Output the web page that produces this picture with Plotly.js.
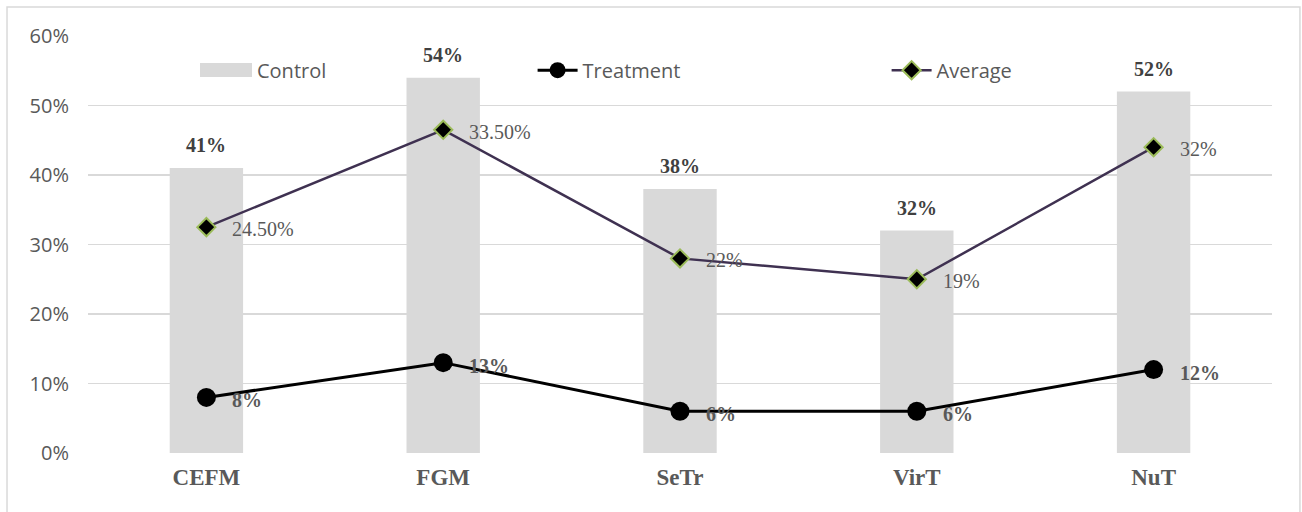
<!DOCTYPE html>
<html>
<head>
<meta charset="utf-8">
<script src="https://cdn.plot.ly/plotly-3.0.1.min.js"></script>
<style>
html,body{margin:0;padding:0;background:#fff;}
#chart{width:1302px;height:512px;}
</style>
</head>
<body>
<div id="chart"></div>
<script>
const categories = ["CEFM", "FGM", "SeTr", "VirT", "NuT"];
const control = [41, 54, 38, 32, 52];
const treatment = [8, 13, 6, 6, 12];
const average = [24.5, 33.5, 22, 19, 32];
const averageLabels = ["24.50%", "33.50%", "22%", "19%", "32%"];
const yTicks = [0, 10, 20, 30, 40, 50, 60];

const sans = "'Open Sans', 'Liberation Sans', sans-serif";
const serif = "'Liberation Serif', 'DejaVu Serif', serif";

const traces = [
  {
    type: "bar", name: "Control", x: categories, y: control,
    width: 0.31, marker: {color: "#D9D9D9"}, legend: "legend",
    hoverinfo: "skip"
  },
  {
    type: "scatter", mode: "lines+markers", name: "Treatment",
    x: categories, y: treatment, stackgroup: "stk", fill: "none",
    line: {color: "#000000", width: 3},
    marker: {symbol: "circle", size: 19, color: "#000000"},
    legend: "legend2", cliponaxis: false
  },
  {
    type: "scatter", mode: "lines+markers", name: "Average",
    x: categories, y: average, stackgroup: "stk", fill: "none",
    line: {color: "#3F3151", width: 2.5},
    marker: {symbol: "diamond", size: 14, color: "#000000", line: {color: "#9BBB59", width: 2}},
    legend: "legend3", cliponaxis: false
  }
];

const annotations = [];
categories.forEach((c, i) => {
  annotations.push({
    x: c, y: control[i], xref: "x", yref: "y", text: control[i] + "%",
    showarrow: false, yanchor: "bottom", yshift: 10,
    font: {family: serif, size: 20, color: "#404040", weight: "bold"}
  });
  annotations.push({
    x: c, y: treatment[i], xref: "x", yref: "y", text: treatment[i] + "%",
    showarrow: false, xanchor: "left", xshift: 24, yshift: -3,
    font: {family: serif, size: 20, color: "#595959", weight: "bold"}
  });
  annotations.push({
    x: c, y: treatment[i] + average[i], xref: "x", yref: "y", text: averageLabels[i],
    showarrow: false, xanchor: "left", xshift: 24, yshift: -2,
    font: {family: serif, size: 20, color: "#595959"}
  });
});

const legendBase = {
  orientation: "h", yanchor: "middle", y: 0.918, xanchor: "left",
  bgcolor: "rgba(0,0,0,0)", font: {family: sans, size: 20, color: "#595959"},
  itemwidth: 40
};

const layout = {
  width: 1302, height: 512,
  margin: {l: 88, r: 30, t: 36, b: 59},
  paper_bgcolor: "#ffffff", plot_bgcolor: "#ffffff",
  showlegend: true,
  legend: Object.assign({}, legendBase, {x: 0.1005}),
  legend2: Object.assign({}, legendBase, {x: 0.3755}),
  legend3: Object.assign({}, legendBase, {x: 0.6745}),
  xaxis: {
    type: "category", showgrid: false, zeroline: false, showline: false,
    ticks: "", ticklabelstandoff: 8,
    tickfont: {family: serif, size: 23, color: "#595959", weight: "bold"}
  },
  yaxis: {
    range: [0, 60], tickvals: yTicks, ticktext: yTicks.map(v => v + "%"),
    showgrid: true, gridcolor: "#D9D9D9", gridwidth: 1.5,
    zeroline: false, showline: false, ticks: "", ticklabelstandoff: 18,
    tickfont: {family: sans, size: 20, color: "#595959"}
  },
  annotations: annotations,
  shapes: [
    {
      type: "rect", xref: "paper", yref: "paper",
      x0: -0.0684, x1: 1.0236, y0: -0.16, y1: 1.0695,
      line: {color: "#D9D9D9", width: 1.5}, fillcolor: "rgba(0,0,0,0)"
    },
    {
      type: "rect", xref: "paper", yref: "paper", layer: "above",
      x0: 0.0946, x1: 0.1385, y0: 0.9017, y1: 0.9353,
      line: {width: 0}, fillcolor: "#D9D9D9"
    }
  ]
};

Plotly.newPlot("chart", traces, layout, {displayModeBar: false, staticPlot: true});
</script>
</body>
</html>
